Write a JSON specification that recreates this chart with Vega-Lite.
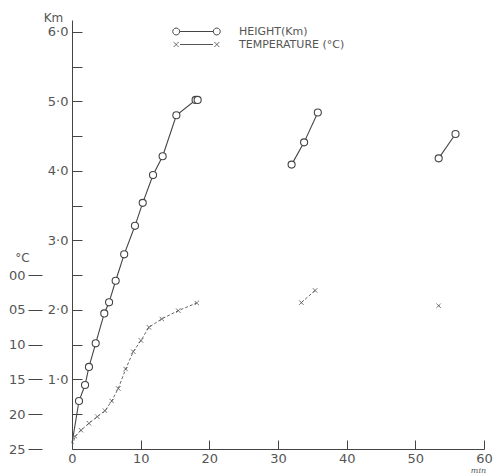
{
  "$schema": "https://vega.github.io/schema/vega-lite/v6.json",
  "width": 412,
  "height": 429,
  "autosize": {"type": "none"},
  "padding": {"left": 72, "top": 20, "right": 13, "bottom": 26},
  "background": "white",
  "config": {
    "view": {"stroke": null},
    "axis": {"grid": false, "labelFont": "DejaVu Sans", "labelFontSize": 13, "labelColor": "#555", "domainColor": "#444", "tickColor": "#444", "titleFont": "DejaVu Sans", "titleFontWeight": "normal", "titleColor": "#555"}
  },
  "datasets": {
    "height": [
      {"t": 0.0, "h": 0.08, "seg": 1, "pt": false},
      {"t": 1.02, "h": 0.69, "seg": 1, "pt": true},
      {"t": 1.9, "h": 0.92, "seg": 1, "pt": true},
      {"t": 2.47, "h": 1.18, "seg": 1, "pt": true},
      {"t": 3.45, "h": 1.52, "seg": 1, "pt": true},
      {"t": 4.7, "h": 1.95, "seg": 1, "pt": true},
      {"t": 5.4, "h": 2.11, "seg": 1, "pt": true},
      {"t": 6.36, "h": 2.42, "seg": 1, "pt": true},
      {"t": 7.6, "h": 2.8, "seg": 1, "pt": true},
      {"t": 9.17, "h": 3.21, "seg": 1, "pt": true},
      {"t": 10.3, "h": 3.54, "seg": 1, "pt": true},
      {"t": 11.8, "h": 3.94, "seg": 1, "pt": true},
      {"t": 13.2, "h": 4.21, "seg": 1, "pt": true},
      {"t": 15.2, "h": 4.8, "seg": 1, "pt": true},
      {"t": 18.0, "h": 5.02, "seg": 1, "pt": true},
      {"t": 18.3, "h": 5.02, "seg": 1, "pt": true},
      {"t": 31.98, "h": 4.09, "seg": 2, "pt": true},
      {"t": 33.8, "h": 4.41, "seg": 2, "pt": true},
      {"t": 35.8, "h": 4.84, "seg": 2, "pt": true},
      {"t": 53.4, "h": 4.18, "seg": 3, "pt": true},
      {"t": 55.85, "h": 4.53, "seg": 3, "pt": true}
    ],
    "temp": [
      {"t": 0.05, "T": 24.5, "seg": 1, "pt": false},
      {"t": 0.44, "T": 23.2, "seg": 1, "pt": true},
      {"t": 1.31, "T": 22.3, "seg": 1, "pt": true},
      {"t": 2.47, "T": 21.3, "seg": 1, "pt": true},
      {"t": 3.68, "T": 20.35, "seg": 1, "pt": true},
      {"t": 4.8, "T": 19.5, "seg": 1, "pt": true},
      {"t": 5.78, "T": 18.1, "seg": 1, "pt": true},
      {"t": 6.74, "T": 16.3, "seg": 1, "pt": true},
      {"t": 7.82, "T": 13.5, "seg": 1, "pt": true},
      {"t": 8.92, "T": 11.0, "seg": 1, "pt": true},
      {"t": 10.04, "T": 9.4, "seg": 1, "pt": true},
      {"t": 11.2, "T": 7.5, "seg": 1, "pt": true},
      {"t": 13.06, "T": 6.3, "seg": 1, "pt": true},
      {"t": 15.47, "T": 5.1, "seg": 1, "pt": true},
      {"t": 18.15, "T": 4.0, "seg": 1, "pt": true},
      {"t": 33.4, "T": 3.95, "seg": 2, "pt": true},
      {"t": 35.4, "T": 2.2, "seg": 2, "pt": true},
      {"t": 53.4, "T": 4.4, "seg": 3, "pt": true}
    ]
  },
  "layer": [
    {
      "data": {"name": "height"},
      "mark": {"type": "line", "color": "#444", "strokeWidth": 1.1},
      "encoding": {
        "x": {"field": "t", "type": "quantitative", "scale": {"domain": [0, 60], "nice": false},
          "axis": {"values": [0, 10, 20, 30, 40, 50, 60], "tickSize": -9, "labelPadding": 12, "labelFlush": false, "labelOverlap": false, "title": "min", "titleX": 406, "titleY": 21, "titleFontSize": 8, "titleFontStyle": "italic", "titleFont": "DejaVu Serif", "titleAlign": "center", "titleBaseline": "middle"}},
        "y": {"field": "h", "type": "quantitative", "scale": {"domain": [0, 6.17], "nice": false, "zero": false},
          "axis": {"orient": "left", "values": [0.5, 1, 1.5, 2, 2.5, 3, 3.5, 4, 4.5, 5, 5.5, 6], "labelOverlap": false, "labelExpr": "datum.value % 1 == 0 ? datum.value + '·0' : ''", "tickSize": -10, "labelPadding": 14, "title": "Km", "titleAngle": 0, "titleX": -19, "titleY": -3, "titleAlign": "center", "titleBaseline": "middle", "titleFontSize": 12}},
        "detail": {"field": "seg", "type": "nominal"}
      }
    },
    {
      "data": {"name": "height"},
      "transform": [{"filter": "datum.pt"}],
      "mark": {"type": "point", "filled": true, "fill": "white", "strokeWidth": 1.1, "size": 50, "opacity": 1},
      "encoding": {
        "x": {"field": "t", "type": "quantitative"},
        "y": {"field": "h", "type": "quantitative", "scale": {"domain": [0, 6.17], "nice": false, "zero": false}, "axis": null},
        "stroke": {"datum": "HEIGHT(Km)", "type": "nominal",
          "scale": {"domain": ["HEIGHT(Km)"], "range": ["#444444"]},
          "legend": {"orient": "none", "legendX": 119, "legendY": 6, "title": null, "padding": 0, "symbolSize": 100, "labelOffset": 37, "labelFontSize": 11, "labelFont": "DejaVu Sans", "labelColor": "#555",
            "symbolType": "M-3.36,0L-3.454,0.35L-3.71,0.606L-4.06,0.7L-4.41,0.606L-4.666,0.35L-4.76,0L-4.666,-0.35L-4.41,-0.606L-4.06,-0.7L-3.71,-0.606L-3.454,-0.35ZM4.76,0L4.666,0.35L4.41,0.606L4.06,0.7L3.71,0.606L3.454,0.35L3.36,0L3.454,-0.35L3.71,-0.606L4.06,-0.7L4.41,-0.606L4.666,-0.35ZM-3.36,0L3.36,0",
            "symbolFillColor": "white", "symbolStrokeWidth": 1, "symbolOpacity": 1}}
      }
    },
    {
      "data": {"name": "temp"},
      "mark": {"type": "line", "color": "#555", "strokeWidth": 0.9, "strokeDash": [3, 2]},
      "encoding": {
        "x": {"field": "t", "type": "quantitative"},
        "y": {"field": "T", "type": "quantitative", "scale": {"domain": [-36.7, 25], "reverse": true, "nice": false, "zero": false},
          "axis": {"orient": "left", "offset": 30, "values": [0, 5, 10, 15, 20, 25], "labelExpr": "datum.value < 10 ? '0' + datum.value : '' + datum.value", "domain": false, "tickSize": 14, "labelPadding": 3, "title": "°C", "titleAngle": 0, "titleX": -20, "titleY": 237, "titleAlign": "center", "titleBaseline": "middle", "titleFontSize": 12}},
        "detail": {"field": "seg", "type": "nominal"}
      }
    },
    {
      "data": {"name": "temp"},
      "transform": [{"filter": "datum.pt"}],
      "mark": {"type": "point", "filled": false, "color": "#555", "strokeWidth": 1, "size": 18, "opacity": 1},
      "encoding": {
        "x": {"field": "t", "type": "quantitative"},
        "y": {"field": "T", "type": "quantitative", "scale": {"domain": [-36.7, 25], "reverse": true, "nice": false, "zero": false}, "axis": null},
        "shape": {"datum": "x", "type": "nominal", "scale": {"domain": ["x"], "range": ["M-1,-1L1,1M-1,1L1,-1"]}, "legend": null},
        "strokeDash": {"datum": "TEMPERATURE (°C)", "type": "nominal",
          "scale": {"domain": ["TEMPERATURE (°C)"], "range": [[1, 0]]},
          "legend": {"orient": "none", "legendX": 119, "legendY": 19, "title": null, "padding": 0, "symbolSize": 100, "labelOffset": 37, "labelFontSize": 11, "labelFont": "DejaVu Sans", "labelColor": "#555",
            "symbolType": "M-4.56,-0.5L-3.56,0.5M-4.56,0.5L-3.56,-0.5M-3.3,0L3.3,0M3.56,-0.5L4.56,0.5M3.56,0.5L4.56,-0.5",
            "symbolFillColor": "transparent", "symbolStrokeColor": "#555", "symbolStrokeWidth": 1, "symbolOpacity": 1}}
      }
    }
  ],
  "resolve": {"scale": {"y": "independent"}}
}
